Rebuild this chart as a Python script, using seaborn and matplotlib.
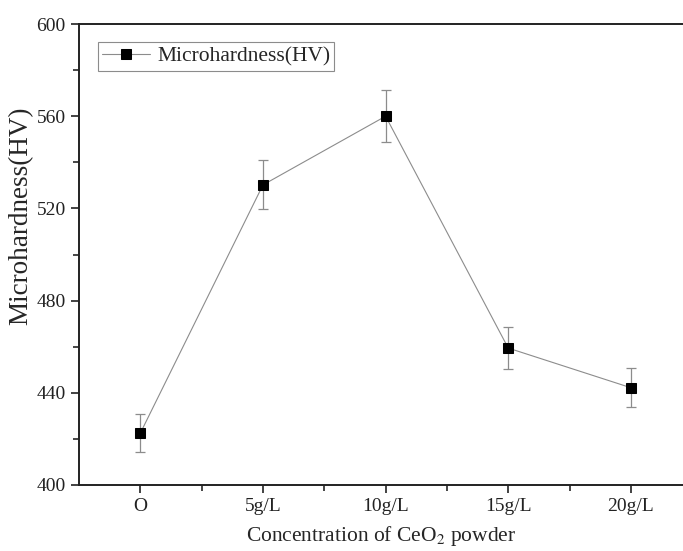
import seaborn as sns
import matplotlib.pyplot as plt
from matplotlib.ticker import MultipleLocator, FixedLocator
import numpy as np

concentration = ["O", "5g/L", "10g/L", "15g/L", "20g/L"]
hardness = [422.5, 530.2, 560.0, 459.4, 442.2]
hardness_err = [8.4, 10.6, 11.3, 9.1, 8.5]

sns.set_style("ticks")
plt.rcParams['font.family'] = ['Liberation Serif', 'DejaVu Serif']
plt.rcParams['mathtext.fontset'] = 'stix'
plt.rcParams['savefig.bbox'] = 'standard'

fig = plt.figure(figsize=(6.83, 5.51), dpi=100)
# right part of the frame is cut off in the original picture
ax = fig.add_axes([0.1157, 0.1198, 0.8843, 0.8366])

pos = np.arange(len(concentration))
ax.errorbar(pos, hardness, yerr=hardness_err, fmt='none', ecolor='#8c8c8c',
            elinewidth=0.9, capsize=3.5, capthick=0.9, zorder=2)
sns.lineplot(x=pos, y=hardness, ax=ax, color='#8c8c8c', linewidth=0.8,
             marker='s', markersize=7, markerfacecolor='black',
             markeredgecolor='black', label='Microhardness(HV)', zorder=3)

ax.set_xlim(-0.5, 4.425)
ax.set_ylim(400, 600)
ax.xaxis.set_major_locator(FixedLocator(pos))
ax.set_xticklabels(concentration)
ax.xaxis.set_minor_locator(FixedLocator(pos[:-1] + 0.5))
ax.yaxis.set_major_locator(MultipleLocator(40))
ax.yaxis.set_minor_locator(MultipleLocator(20))
ax.tick_params(which='major', direction='out', length=6, width=1.2,
               labelsize=14, colors='#222222')
ax.tick_params(which='minor', direction='out', length=4, width=1.2)

ax.spines['right'].set_visible(False)
for s in ax.spines.values():
    s.set_linewidth(1.4)
    s.set_color('#222222')

ax.set_xlabel("Concentration of CeO$_2$ powder", fontsize=15.5, labelpad=6)
ax.set_ylabel("Microhardness(HV)", fontsize=19.5)
ax.yaxis.set_label_coords(-0.076, 0.583)

leg = ax.legend(loc='upper left', bbox_to_anchor=(0.031, 0.961), fontsize=15.5,
                fancybox=False, framealpha=1, edgecolor='#8c8c8c',
                handlelength=2.25, borderpad=0.2, handletextpad=0.3,
                borderaxespad=0)
leg.get_frame().set_linewidth(0.8)

fig.savefig("out.png", dpi=100)
